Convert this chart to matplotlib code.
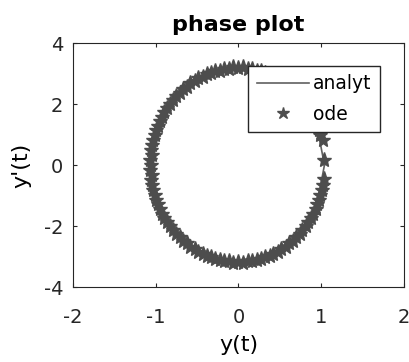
import matplotlib.pyplot as plt

plt.rcParams['font.family'] = ['DejaVu Sans']
plt.rcParams['axes.unicode_minus'] = False

# ode solution points (y, y'), first pass round the orbit
ode1_y = [1.03, 1.03, 1.02, 0.99, 0.95, 0.90, 0.84, 0.77, 0.70, 0.61, 0.52, 0.42, 0.32, 0.22, 0.11, 0.00,
          -0.11, -0.22, -0.33, -0.43, -0.53, -0.62, -0.71, -0.79, -0.86, -0.92, -0.97, -1.01, -1.04, -1.05, -1.06,
          -1.05, -1.04, -1.01, -0.97, -0.92, -0.86, -0.79, -0.71, -0.62, -0.53, -0.43, -0.33, -0.22, -0.11, 0.00,
          0.11, 0.22, 0.32, 0.42, 0.52, 0.61, 0.70, 0.77, 0.84, 0.90, 0.95, 0.99, 1.02]
ode1_dy = [0.16, -0.45, -0.66, -0.98, -1.29, -1.59, -1.86, -2.12, -2.36, -2.56, -2.75, -2.90, -3.01, -3.10, -3.15, -3.17,
           -3.15, -3.10, -3.01, -2.90, -2.75, -2.56, -2.36, -2.12, -1.86, -1.59, -1.29, -0.98, -0.66, -0.33, 0.00,
           0.33, 0.66, 0.98, 1.29, 1.59, 1.86, 2.12, 2.36, 2.56, 2.75, 2.90, 3.01, 3.10, 3.15, 3.17,
           3.15, 3.10, 3.01, 2.90, 2.75, 2.56, 2.36, 2.12, 1.86, 1.59, 1.29, 0.98, 0.82]

# second pass, slightly wider
ode2_y = [1.01, 0.98, 0.94, 0.88, 0.82, 0.74, 0.66, 0.57, 0.48, 0.38, 0.27, 0.16, 0.05,
          -0.06, -0.17, -0.28, -0.38, -0.49, -0.58, -0.67, -0.76, -0.83, -0.90, -0.95, -1.00, -1.03, -1.06, -1.07,
          -1.07, -1.06, -1.03, -1.00, -0.95, -0.90, -0.83, -0.76, -0.67, -0.58, -0.49, -0.38, -0.28, -0.17, -0.06,
          0.05, 0.16, 0.27, 0.38, 0.48, 0.57, 0.66, 0.74, 0.82, 0.88, 0.94, 0.98]
ode2_dy = [-0.83, -1.15, -1.45, -1.74, -2.01, -2.26, -2.49, -2.68, -2.85, -2.99, -3.09, -3.16, -3.20,
           -3.20, -3.16, -3.09, -2.99, -2.85, -2.68, -2.49, -2.26, -2.01, -1.74, -1.45, -1.15, -0.83, -0.50, -0.17,
           0.17, 0.50, 0.83, 1.15, 1.45, 1.74, 2.01, 2.26, 2.49, 2.68, 2.85, 2.99, 3.09, 3.16, 3.20,
           3.20, 3.16, 3.09, 2.99, 2.85, 2.68, 2.49, 2.26, 2.01, 1.74, 1.45, 1.15]

# analytic curve
an_y = [1.04, 0.95, 0.70, 0.32, -0.11, -0.53, -0.86, -1.04, -1.04, -0.86, -0.53, -0.11, 0.32, 0.70, 0.95, 1.04]
an_dy = [0.00, -1.29, -2.36, -3.01, -3.15, -2.75, -1.86, -0.66, 0.66, 1.86, 2.75, 3.15, 3.01, 2.36, 1.29, 0.00]

fig = plt.figure(figsize=(4.10, 3.62), dpi=100)
ax = fig.add_axes([0.178, 0.207, 0.807, 0.674])

ax.plot(an_y, an_dy, color='#606060', linewidth=1.2, label='analyt')
ax.plot(ode1_y + ode2_y, ode1_dy + ode2_dy, linestyle='none', marker='*', markersize=11,
        color='#4d4d4d', markeredgecolor='#4d4d4d', label='ode')

ax.set_xlim(-2, 2)
ax.set_ylim(-4, 4)
ax.set_xticks([-2, -1, 0, 1, 2])
ax.set_yticks([-4, -2, 0, 2, 4])
ax.tick_params(direction='in', top=True, right=True, labelsize=14, colors='#262626', length=3)
ax.tick_params(axis='x', pad=15)
ax.tick_params(axis='y', pad=7)
for s in ax.spines.values():
    s.set_color('#262626')

ax.set_title('phase plot', fontsize=16, fontweight='bold', pad=9)
ax.set_xlabel('y(t)', fontsize=16, labelpad=6)
ax.set_ylabel("y'(t)", fontsize=16, labelpad=9)

leg = ax.legend(loc='upper right', bbox_to_anchor=(0.927, 0.906), borderaxespad=0,
                fontsize=13.5, fancybox=False, framealpha=1, edgecolor='#262626',
                handlelength=2.8, handletextpad=0.2, borderpad=0.45, labelspacing=0.6,
                markerscale=0.8)
leg.get_frame().set_linewidth(1.0)

fig.savefig('out.png', dpi=100)
